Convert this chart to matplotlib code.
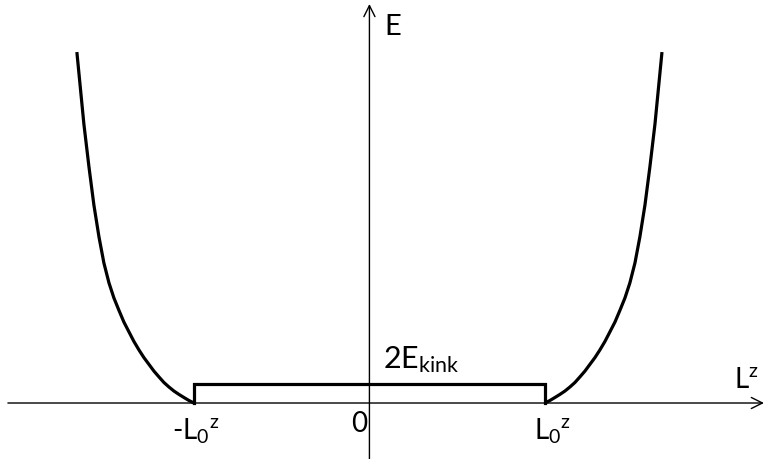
import matplotlib
matplotlib.use("Agg")
import matplotlib.pyplot as plt
import numpy as np

plt.rcParams['font.family'] = ['Lato', 'DejaVu Sans']
plt.rcParams['mathtext.fontset'] = 'custom'
plt.rcParams['mathtext.rm'] = 'Lato'
plt.rcParams['mathtext.it'] = 'Lato'
plt.rcParams['mathtext.bf'] = 'Lato:bold'

# Right branch of E(L^z), in units of L0 (x) and 2E_kink (y); left branch mirrors it
branch_x = [1.000, 1.028, 1.057, 1.085, 1.114, 1.142, 1.171, 1.199, 1.228,
            1.256, 1.285, 1.313, 1.342, 1.370, 1.399, 1.427, 1.456, 1.484,
            1.513, 1.541, 1.570, 1.598, 1.627, 1.667]
branch_y = [0.00, 0.13, 0.29, 0.45, 0.63, 0.84, 1.08, 1.37, 1.68,
            2.03, 2.39, 2.79, 3.24, 3.74, 4.26, 4.87, 5.53, 6.32,
            7.37, 8.74, 10.42, 12.42, 14.68, 18.47]
plateau_x = [-1.0, -1.0, 1.0, 1.0]
plateau_y = [0.0, 1.0, 1.0, 0.0]

fig = plt.figure(figsize=(7.65, 4.6), dpi=100)
ax = fig.add_axes([0, 0, 1, 1])
ax.set_xlim(-2.105, 2.254)
ax.set_ylim(-2.947, 21.263)
ax.axis('off')

bx = np.array(branch_x)
by = np.array(branch_y)
lw_curve = 2.3
ax.plot(bx, by, color='black', lw=lw_curve, solid_capstyle='butt')
ax.plot(-bx, by, color='black', lw=lw_curve, solid_capstyle='butt')
ax.plot(plateau_x, plateau_y, color='black', lw=lw_curve, solid_joinstyle='miter')

arrow = dict(arrowstyle='->', lw=1.0, color='black', mutation_scale=20,
             shrinkA=0, shrinkB=0)
ax.annotate('', xy=(2.248, 0), xytext=(-2.06, 0), arrowprops=arrow)
ax.annotate('', xy=(0, 21.0), xytext=(0, -2.947), arrowprops=arrow)

fs = 20
ax.text(0.083, 19.42, 'E', fontsize=21, ha='left', va='baseline')
ax.text(2.080, 0.84, r'$\mathrm{L}^{z}$', fontsize=fs, ha='left', va='baseline')
ax.text(-1.125, -1.89, r'-$\mathrm{L}_{0}{}^{z}$', fontsize=fs, ha='left', va='baseline')
ax.text(0.937, -1.89, r'$\mathrm{L}_{0}{}^{z}$', fontsize=fs, ha='left', va='baseline')
ax.text(-0.057, -1.47, '0', fontsize=fs, ha='center', va='baseline')
ax.text(0.077, 1.89, r'$\mathrm{2E}_{\mathrm{kink}}$', fontsize=22, ha='left', va='baseline')

fig.savefig('out.png', dpi=100)
